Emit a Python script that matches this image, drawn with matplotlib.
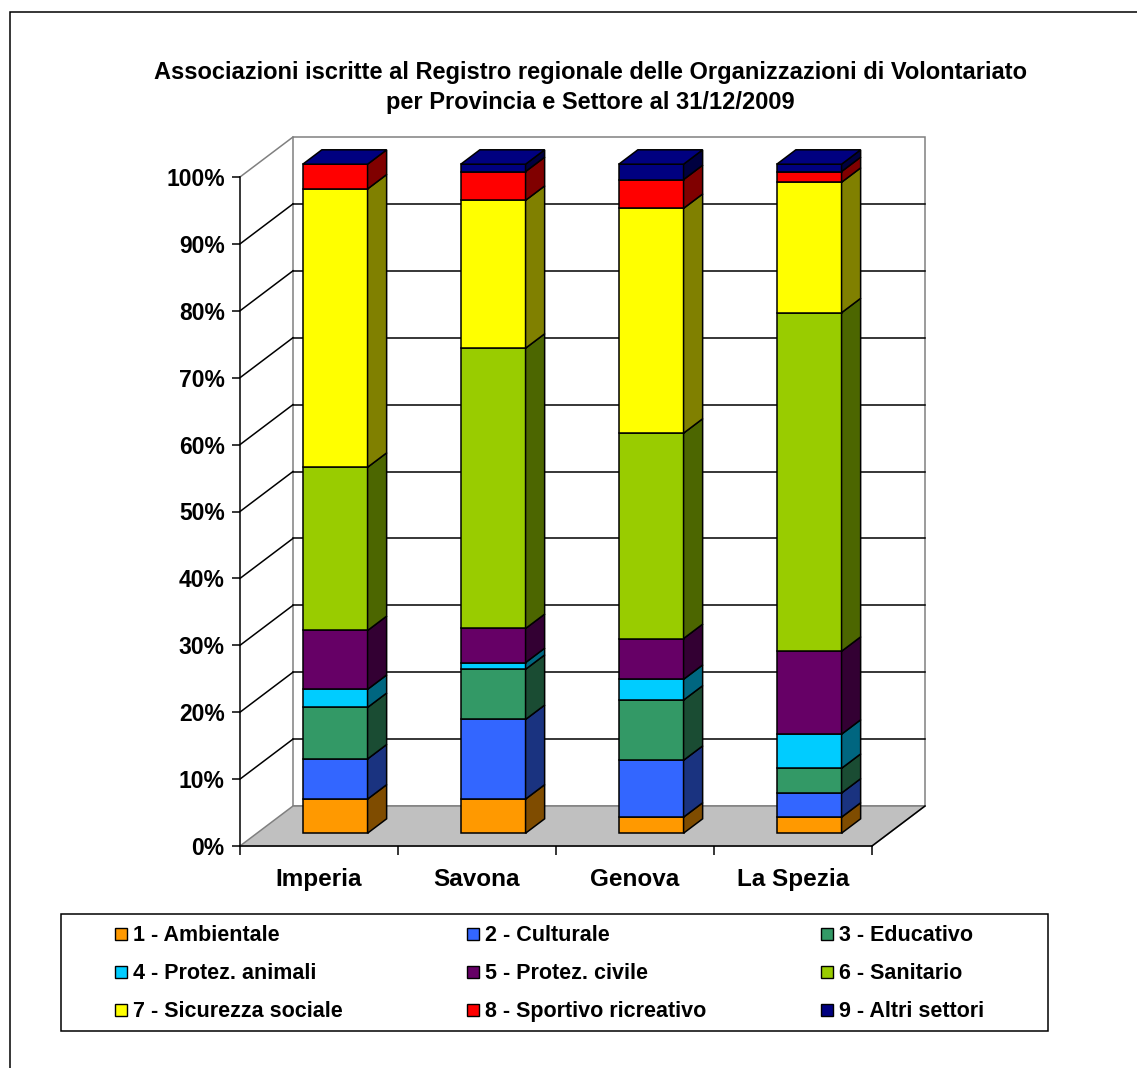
import matplotlib
matplotlib.use("Agg")
import matplotlib.pyplot as plt
from matplotlib.patches import Polygon, Rectangle
from matplotlib.lines import Line2D

plt.rcParams['font.family'] = ['Liberation Sans', 'DejaVu Sans']
plt.rcParams['font.weight'] = 'bold'

# Percentuali per provincia (ogni colonna somma a 100)
province = ["Imperia", "Savona", "Genova", "La Spezia"]
settori = ["1 - Ambientale", "2 - Culturale", "3 - Educativo",
           "4 - Protez. animali", "5 - Protez. civile", "6 - Sanitario",
           "7 - Sicurezza sociale", "8 - Sportivo ricreativo", "9 - Altri settori"]
ambientale = [5.1, 5.1, 2.4, 2.4]
culturale = [6.0, 11.9, 8.5, 3.6]
educativo = [7.7, 7.5, 9.0, 3.7]
animali = [2.7, 1.0, 3.1, 5.1]
civile = [8.8, 5.1, 6.1, 12.4]
sanitario = [24.4, 41.9, 30.7, 50.6]
sicurezza = [41.6, 22.1, 33.6, 19.5]
sportivo = [3.7, 4.3, 4.3, 1.6]
altri = [0.0, 1.1, 2.3, 1.1]
serie = [ambientale, culturale, educativo, animali, civile,
         sanitario, sicurezza, sportivo, altri]

front_col = ["#FF9900", "#3366FF", "#339966", "#00CCFF", "#660066",
             "#99CC00", "#FFFF00", "#FF0000", "#000080"]
side_col = ["#7F4C00", "#1A3380", "#1A4C33", "#006680", "#330033",
            "#4C6600", "#808000", "#800000", "#000040"]

W, H = 1137, 1068
fig = plt.figure(figsize=(W / 100, H / 100), dpi=100)

# axes = front plane of the 3D box
ax = fig.add_axes([240 / W, 1 - 846 / H, 632 / W, 669 / H])
ax.set_xlim(0, 4)
ax.set_ylim(0, 1)
ax.patch.set_visible(False)

# oblique depth direction in data units
KX = 53 / 158
KY = 40 / 669


def proj(c, v, d):
    return (c + KX * d, v + KY * d)


def poly(pts, fc, ec, lw=1.1, z=1):
    ax.add_patch(Polygon([proj(*p) for p in pts], closed=True, facecolor=fc,
                         edgecolor=ec, linewidth=lw, zorder=z, clip_on=False,
                         joinstyle='miter'))


def line(p0, p1, color, lw=1.1, z=1.5):
    a, b = proj(*p0), proj(*p1)
    ax.add_line(Line2D([a[0], b[0]], [a[1], b[1]], color=color, lw=lw,
                       zorder=z, clip_on=False))


GRAY = "#808080"
n = len(province)

# floor and back wall
poly([(0, 0, 0), (n, 0, 0), (n, 0, 1), (0, 0, 1)], "#C0C0C0", GRAY, z=0.5)
poly([(0, 0, 1), (n, 0, 1), (n, 1, 1), (0, 1, 1)], "white", GRAY, z=0.4)
line((0, 1, 0), (0, 1, 1), GRAY)
line((n, 0, 0), (n, 0, 1), "black")

# gridlines on side wall and back wall
for k in range(1, 10):
    v = k / 10
    line((0, v, 0), (0, v, 1), "black")
    line((0, v, 1), (n, v, 1), "black")

# stacked 3D columns
c0, c1 = 0.29, 0.70
d0, d1 = 0.32, 0.68
for i in range(n):
    base = 0.0
    for s, vals in enumerate(serie):
        h = vals[i] / 100
        top = base + h
        a, b = i + c0, i + c1
        if h > 0:
            poly([(a, base, d0), (b, base, d0), (b, top, d0), (a, top, d0)],
                 front_col[s], "black", z=2)
            poly([(b, base, d0), (b, base, d1), (b, top, d1), (b, top, d0)],
                 side_col[s], "black", z=2)
        base = top
    poly([(a, base, d0), (b, base, d0), (b, base, d1), (a, base, d1)],
         front_col[-1], "black", z=2.1)

# axes, ticks and labels
for sp in ["top", "right"]:
    ax.spines[sp].set_visible(False)
for sp in ["left", "bottom"]:
    ax.spines[sp].set_linewidth(1.1)
    ax.spines[sp].set_zorder(3)

ax.set_yticks([k / 10 for k in range(11)])
ax.set_yticklabels([f"{k * 10}%" for k in range(11)])
ax.tick_params(axis='y', direction='out', length=6, width=1.1, pad=5,
               labelsize=16.5)

ax.set_xticks(range(n + 1))
ax.set_xticklabels([])
ax.set_xticks([i + 0.5 for i in range(n)], minor=True)
ax.set_xticklabels(province, minor=True)
ax.tick_params(axis='x', which='major', direction='out', length=6.5, width=1.1)
ax.tick_params(axis='x', which='minor', length=0, pad=16, labelsize=17.5)
for t in ax.get_xticklabels(minor=True) + ax.get_yticklabels():
    t.set_fontweight('bold')

fig.text(590 / W, 1 - 73 / H,
         "Associazioni iscritte al Registro regionale delle Organizzazioni di Volontariato",
         ha='center', va='center', fontsize=17, fontweight='bold')
fig.text(590 / W, 1 - 102 / H, "per Provincia e Settore al 31/12/2009",
         ha='center', va='center', fontsize=17, fontweight='bold')

# legend box
fig.patches.append(Rectangle((61 / W, 1 - 1031 / H), (1048 - 61) / W, (1031 - 914) / H,
                             transform=fig.transFigure, facecolor='white',
                             edgecolor='black', linewidth=1.1))
col_x = [115, 467, 821]
row_y = [934, 972, 1010]
for s, name in enumerate(settori):
    r, c = divmod(s, 3)
    x, y = col_x[c], row_y[r]
    fig.patches.append(Rectangle((x / W, 1 - (y + 6) / H), 12 / W, 12 / H,
                                 transform=fig.transFigure, facecolor=front_col[s],
                                 edgecolor='black', linewidth=1.0))
    fig.text((x + 18) / W, 1 - (y + 7) / H, name, ha='left', va='baseline',
             fontsize=15.5, fontweight='bold')

# outer chart border
fig.patches.append(Rectangle((10 / W, -0.01), 1.02, 1 - 12 / H + 0.01,
                             transform=fig.transFigure, facecolor='none',
                             edgecolor='black', linewidth=1.1))

fig.savefig("out.png", dpi=100)
